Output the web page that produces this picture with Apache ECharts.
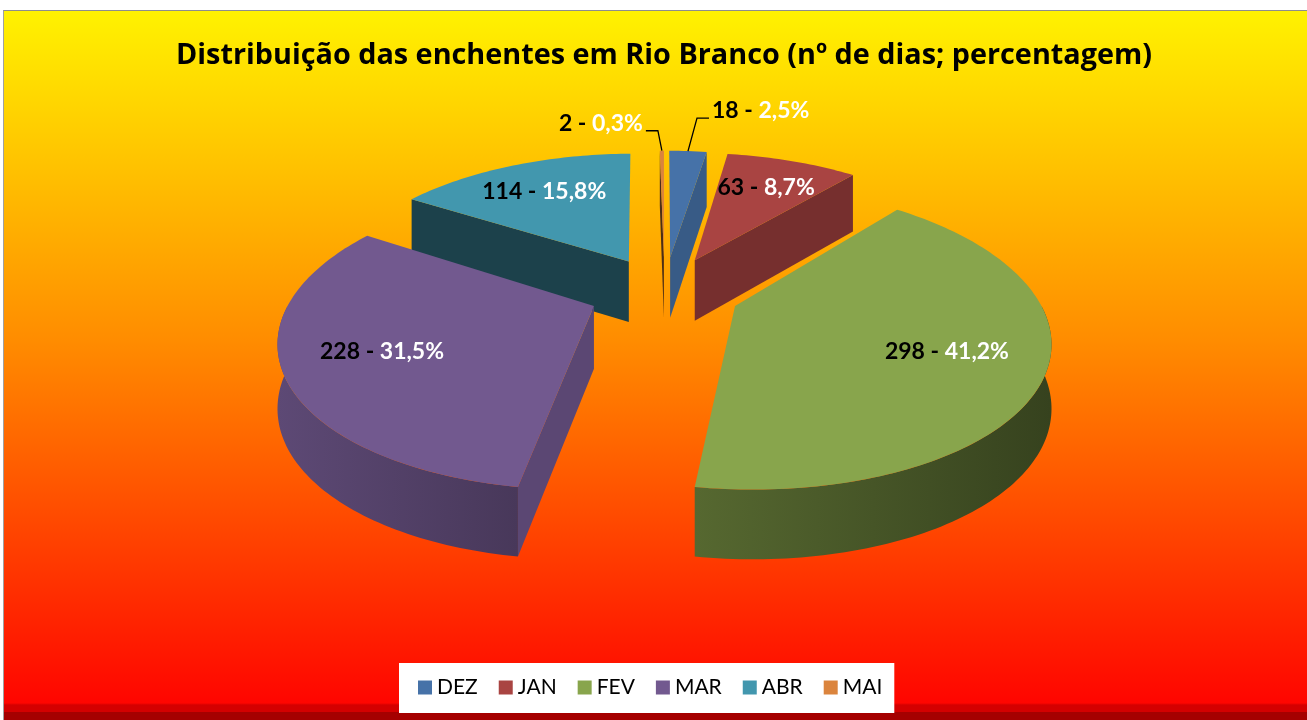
<!DOCTYPE html>
<html>
<head>
<meta charset="utf-8">
<script src="https://cdn.jsdelivr.net/npm/echarts@6/dist/echarts.min.js"></script>
<style>
  html, body { margin: 0; padding: 0; background: #fff; }
  #frame {
    position: absolute; left: 3px; top: 10px; width: 1304px; height: 710px;
    border-top: 1px solid #8d8d8d; border-left: 1px solid #a0a0a0;
    background: linear-gradient(to bottom, #FFF200 0px, #FF8C00 330px, #FF0500 692px,
      #D40000 694px, #D40000 701px, #A50000 701px);
  }
  #chart { position: absolute; left: 0; top: 0; width: 1307px; height: 720px; }
</style>
</head>
<body>
<div id="frame"></div>
<div id="chart"></div>
<script>
const title = 'Distribuição das enchentes em Rio Branco (nº de dias; percentagem)'
const months = ['DEZ', 'JAN', 'FEV', 'MAR', 'ABR', 'MAI']
const days = [18, 63, 298, 228, 114, 2]
const colors = ['#4672A8', '#A94442', '#88A54C', '#72598F', '#4297AE', '#DB843D']

// tilted pie: centre, half-axes, perspective, thickness, explode
const CX = 664.5, CY = 291, SX = 300, SY = 140, PERSP = 0.2, DEPTH = 62, DEPTH_PERSP = 0.1, EXPLODE = 0.253
const FONT = 'Lato'
// small slices get a callout line instead of an inside label
const calloutRise = [33, 0, 0, 0, 0, 20]
const calloutRun = [9, 0, 0, 0, 0, -4]

const total = days.reduce((a, b) => a + b, 0)
const starts = []
let acc = 0
days.forEach(d => { starts.push(acc); acc += d })

function proj(u, v, down) {
  const k = 1 + PERSP * v
  return [CX + SX * u / k, CY - SY * v / k + (down ? DEPTH / (1 + DEPTH_PERSP * v) : 0)]
}

function shade(hex, f) {
  const n = parseInt(hex.slice(1), 16)
  const c = [(n >> 16) & 255, (n >> 8) & 255, n & 255].map(x => Math.round(x * f))
  return 'rgb(' + c.join(',') + ')'
}

function renderSlice(idx, api) {
  const val = api.value(0)
  const color = colors[idx]
  const a0 = starts[idx] / total * Math.PI * 2
  const a1 = a0 + val / total * Math.PI * 2
  const m = (a0 + a1) / 2
  const ex = EXPLODE * Math.sin(m), ey = EXPLODE * Math.cos(m)
  const pt = (a, r, down) => proj(ex + r * Math.sin(a), ey + r * Math.cos(a), down)
  const arc = (from, to, down) => {
    const n = Math.max(2, Math.ceil(Math.abs(to - from) / 0.02))
    const out = []
    for (let i = 0; i <= n; i++) out.push(pt(from + (to - from) * i / n, 1, down))
    return out
  }
  const z = Math.round((1 - Math.cos(m)) * 100)
  const children = []

  // cut faces
  const cuts = [[a0, Math.sin(a0) < -1e-6, a0 - Math.PI / 2], [a1, Math.sin(a1) > 1e-6, a1 + Math.PI / 2]]
  cuts.forEach(([a, visible, normal]) => {
    if (!visible) return
    const deg = normal * 180 / Math.PI
    const f = Math.max(0.35, 0.8 - (deg - 99) / 113 * 0.37)
    children.push({
      type: 'polygon', z2: z,
      shape: { points: [pt(a, 0, false), pt(a, 1, false), pt(a, 1, true), pt(a, 0, true)] },
      style: { fill: shade(color, f), stroke: 'none' },
    })
  })

  // outer rim, only the front half shows
  const lo = Math.max(a0, Math.PI / 2), hi = Math.min(a1, Math.PI * 1.5)
  if (hi > lo) {
    const rimF = a => 0.4 + ((a * 180 / Math.PI) - 90) / 180 * 0.42
    children.push({
      type: 'polygon', z2: z,
      shape: { points: arc(lo, hi, false).concat(arc(hi, lo, true)) },
      style: {
        stroke: 'none',
        fill: {
          type: 'linear', x: 0, y: 0, x2: 1, y2: 0,
          colorStops: [{ offset: 0, color: shade(color, rimF(hi)) }, { offset: 1, color: shade(color, rimF(lo)) }],
        },
      },
    })
  }

  // top face
  children.push({
    type: 'polygon', z2: z + 1,
    shape: { points: [pt(a0, 0, false)].concat(arc(a0, a1, false)) },
    style: { fill: color, stroke: 'none' },
  })

  // label
  const pct = (val / total * 100).toFixed(1).replace('.', ',')
  const text = '{n|' + val + ' - }{p|' + pct + '%}'
  const rich = {
    n: { fill: '#000', fontSize: 23, fontWeight: 'bold', fontFamily: FONT },
    p: { fill: '#fff', fontSize: 23, fontWeight: 'bold', fontFamily: FONT },
  }
  if (calloutRise[idx]) {
    const anchor = pt(m, 1, false)
    const sign = calloutRun[idx] >= 0 ? 1 : -1
    const elbow = [anchor[0] + calloutRun[idx], anchor[1] - calloutRise[idx]]
    const end = [elbow[0] + sign * 12, elbow[1]]
    children.push({
      type: 'polyline', z2: 900,
      shape: { points: [anchor, elbow, end] },
      style: { stroke: '#000', lineWidth: 1.3, fill: 'none' },
    })
    children.push({
      type: 'text', z2: 1000,
      style: { text, rich, x: end[0] + sign * 3, y: end[1] - 7, align: sign > 0 ? 'left' : 'right', verticalAlign: 'middle' },
    })
  } else {
    const p = pt(m, 0.7, false)
    children.push({
      type: 'text', z2: 1000,
      style: { text, rich, x: p[0], y: p[1], align: 'center', verticalAlign: 'middle' },
    })
  }
  return { type: 'group', children }
}

const chart = echarts.init(document.getElementById('chart'), null, { renderer: 'canvas' })

chart.setOption({
  animation: false,
  backgroundColor: 'transparent',
  graphic: [{
    type: 'text', x: 664, y: 56, z: 10,
    style: { text: title, fill: '#000', fontSize: 28.8, fontWeight: 'bold', fontFamily: 'Open Sans', align: 'center', verticalAlign: 'middle' },
  }],
  legend: {
    left: 399, top: 663,
    backgroundColor: '#fff',
    padding: [14, 12, 15, 19],
    icon: 'rect', itemWidth: 14, itemHeight: 14, itemGap: 21,
    selectedMode: false,
    textStyle: { color: '#000', fontSize: 21, fontFamily: FONT },
    data: months,
  },
  series: months.map((name, i) => ({
    type: 'custom',
    name,
    coordinateSystem: 'none',
    silent: true,
    itemStyle: { color: colors[i] },
    data: [[days[i]]],
    renderItem: (params, api) => renderSlice(i, api),
  })),
})

window.addEventListener('resize', () => chart.resize())
</script>
</body>
</html>
